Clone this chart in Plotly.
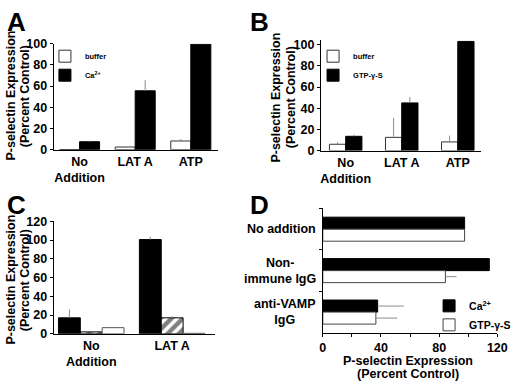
import plotly.graph_objects as go

W, H = 520, 388

# ---------------- data ----------------
# Panel A
a_categories = ["No<br>Addition", "LAT A", "ATP"]
a_buffer = [0, 2.5, 8.2]
a_buffer_sem = [0, 0.3, 1.8]
a_ca = [7.5, 55.5, 99.5]
a_ca_sem = [1.0, 10.0, 0]

# Panel B
b_categories = ["No<br>Addition", "LAT A", "ATP"]
b_buffer = [6.0, 12.5, 8.2]
b_buffer_sem = [2.0, 18.4, 6.0]
b_gtp = [13.5, 45.0, 103.0]
b_gtp_sem = [1.5, 5.6, 0]

# Panel C
c_categories = ["No<br>Addition", "LAT A"]
c_black = [17.0, 100.5]
c_black_sem = [9.0, 3.0]
c_hatched = [2.0, 17.0]
c_hatched_sem = [0.5, 2.0]
c_white = [6.5, 0.5]
c_white_sem = [0, 0]

# Panel D
d_categories = ["No addition", "Non-<br>immune IgG", "anti-VAMP<br>IgG"]
d_ca = [97.5, 114.5, 37.7]
d_ca_sem = [0, 0, 18.0]
d_gtp = [97.5, 84.3, 36.5]
d_gtp_sem = [0.5, 7.7, 14.7]

y_ticks_100 = [0, 20, 40, 60, 80, 100]
y_ticks_120 = [0, 20, 40, 60, 80, 100, 120]
d_x_ticks = [0, 40, 80, 120]

title_line1 = "P-selectin Expression"
title_line2 = "(Percent Control)"

# ---------------- helpers ----------------
FONT = "Liberation Sans, Arial, sans-serif"
ERR_COLOR = "#8c8c8c"
OUTLINE = "#333333"


def px_x(p):
    return p / W


def px_y(p):
    return 1 - p / H


def err(vals):
    return dict(type="data", symmetric=False, array=vals, arrayminus=[0] * len(vals),
                color=ERR_COLOR, thickness=1, width=0, visible=True)


fig = go.Figure()

# Panel A
fig.add_trace(go.Bar(x=a_categories, y=a_buffer, name="buffer", width=0.36, offset=-0.36,
                     marker=dict(color="white", line=dict(color=OUTLINE, width=1)),
                     error_y=err(a_buffer_sem), xaxis="x", yaxis="y", legend="legend"))
fig.add_trace(go.Bar(x=a_categories, y=a_ca, name="Ca<sup>2+</sup>", width=0.36, offset=0,
                     marker=dict(color="black", line=dict(color="black", width=1)),
                     error_y=err(a_ca_sem), xaxis="x", yaxis="y", legend="legend"))

# Panel B
fig.add_trace(go.Bar(x=b_categories, y=b_buffer, name="buffer", width=0.29, offset=-0.29,
                     marker=dict(color="white", line=dict(color=OUTLINE, width=1)),
                     error_y=err(b_buffer_sem), xaxis="x2", yaxis="y2", legend="legend2"))
fig.add_trace(go.Bar(x=b_categories, y=b_gtp, name="GTP-γ-S", width=0.29, offset=0,
                     marker=dict(color="black", line=dict(color="black", width=1)),
                     error_y=err(b_gtp_sem), xaxis="x2", yaxis="y2", legend="legend2"))

# Panel C
fig.add_trace(go.Bar(x=c_categories, y=c_black, name="black", width=0.27, offset=-0.405,
                     marker=dict(color="black", line=dict(color="black", width=1)),
                     error_y=err(c_black_sem), xaxis="x3", yaxis="y3", showlegend=False))
fig.add_trace(go.Bar(x=c_categories, y=c_hatched, name="hatched", width=0.27, offset=-0.135,
                     marker=dict(color="white", line=dict(color="black", width=1),
                                 pattern=dict(shape="/", fgcolor="black", bgcolor="white",
                                              size=8, solidity=0.55)),
                     error_y=err(c_hatched_sem), xaxis="x3", yaxis="y3", showlegend=False))
fig.add_trace(go.Bar(x=c_categories, y=c_white, name="white", width=0.27, offset=0.135,
                     marker=dict(color="white", line=dict(color="#555555", width=1)),
                     error_y=err(c_white_sem), xaxis="x3", yaxis="y3", showlegend=False))

# Panel D
fig.add_trace(go.Bar(y=d_categories, x=d_ca, name="Ca<sup>2+</sup>", orientation="h",
                     width=0.29, offset=-0.29,
                     marker=dict(color="black", line=dict(color="black", width=1)),
                     error_x=err(d_ca_sem), xaxis="x4", yaxis="y4", legend="legend3"))
fig.add_trace(go.Bar(y=d_categories, x=d_gtp, name="GTP-γ-S", orientation="h",
                     width=0.29, offset=0,
                     marker=dict(color="white", line=dict(color="#444444", width=1)),
                     error_x=err(d_gtp_sem), xaxis="x4", yaxis="y4", legend="legend3"))

axis_common = dict(showline=True, linecolor="black", linewidth=1, showgrid=False,
                   zeroline=False,
                   tickfont=dict(size=12.5, family=FONT, color="black", weight="bold"))

legend_common = dict(bgcolor="rgba(0,0,0,0)", borderwidth=0, xanchor="left", yanchor="top",
                     traceorder="normal", tracegroupgap=0)

fig.update_layout(
    width=W, height=H,
    margin=dict(l=0, r=0, t=0, b=0),
    paper_bgcolor="white", plot_bgcolor="white",
    font=dict(family=FONT, size=12.5, color="black", weight="bold"),
    barmode="overlay",
    # Panel A
    xaxis=dict(axis_common, domain=[px_x(52), px_x(220)], anchor="y", type="category",
               range=[-0.465, 2.48], ticks=""),
    yaxis=dict(axis_common, domain=[px_y(148), px_y(38)], anchor="x", range=[0, 100],
               tickvals=y_ticks_100, ticks="outside", ticklen=3, tickcolor="black"),
    # Panel B
    xaxis2=dict(axis_common, domain=[px_x(326), px_x(490)], anchor="y2", type="category",
                range=[-0.443, 2.41], ticks=""),
    yaxis2=dict(axis_common, domain=[px_y(149), px_y(34.6)], anchor="x2", range=[0, 104],
                tickvals=y_ticks_100, ticks="outside", ticklen=3, tickcolor="black"),
    # Panel C
    xaxis3=dict(axis_common, domain=[px_x(52), px_x(217)], anchor="y3", type="category",
                range=[-0.464, 1.524], ticks=""),
    yaxis3=dict(axis_common, domain=[px_y(339), px_y(222.3)], anchor="x3", range=[0, 120],
                tickvals=y_ticks_120, ticks="outside", ticklen=3, tickcolor="black"),
    # Panel D
    xaxis4=dict(axis_common, domain=[px_x(328), px_x(507)], anchor="y4", range=[0, 120],
                tickvals=d_x_ticks, ticks="outside", ticklen=3, tickcolor="black",
                minor=dict(dtick=20, ticks="outside", ticklen=3, tickcolor="black",
                           showgrid=False)),
    yaxis4=dict(axis_common, domain=[px_y(338), px_y(209)], anchor="x4", type="category",
                categoryorder="array", categoryarray=d_categories, range=[2.5, -0.5],
                tickson="boundaries", ticks="outside", ticklen=3, tickcolor="black",
                showticklabels=False),
    legend=dict(legend_common, x=px_x(43), y=px_y(36),
                font=dict(size=7.5, family=FONT, weight="bold")),
    legend2=dict(legend_common, x=px_x(318), y=px_y(36),
                 font=dict(size=7.5, family=FONT, weight="bold")),
    legend3=dict(legend_common, x=px_x(437), y=px_y(295),
                 font=dict(size=10.5, family=FONT, weight="bold")),
)

ann = []
# panel letters
for letter, xp, yp in [("A", 2, -2), ("B", 251, -2), ("C", 2, 188), ("D", 251, 188)]:
    ann.append(dict(text=letter, x=px_x(xp), y=px_y(yp), xref="paper", yref="paper",
                    xanchor="left", yanchor="top", showarrow=False,
                    font=dict(size=26, family=FONT, weight="bold", color="black")))
# y titles, one line each
for x1, x2, yp in [(8, 22, 92), (280, 295, 94), (8, 22, 283)]:
    for txt, xp in [(title_line1, x1), (title_line2, x2)]:
        ann.append(dict(text=txt, x=px_x(xp), y=px_y(yp), xref="paper", yref="paper",
                        xanchor="center", yanchor="middle", textangle=-90, showarrow=False,
                        font=dict(size=12.5, family=FONT, weight="bold", color="black")))
# D x title
for txt, yp in [(title_line1, 367), (title_line2, 381)]:
    ann.append(dict(text=txt, x=px_x(415), y=px_y(yp), xref="paper", yref="paper",
                    xanchor="center", yanchor="middle", showarrow=False,
                    font=dict(size=12.5, family=FONT, weight="bold", color="black")))
# D category labels (centred multi-line)
for cat in d_categories:
    ann.append(dict(text=cat, x=px_x(323), y=cat, xref="paper", yref="y4",
                    xanchor="right", yanchor="middle", align="center", showarrow=False,
                    font=dict(size=12.5, family=FONT, weight="bold", color="black")))

fig.update_layout(annotations=ann)

fig.write_html("out.html", config={"displayModeBar": False},
               post_script="document.body.style.margin='0px';")
